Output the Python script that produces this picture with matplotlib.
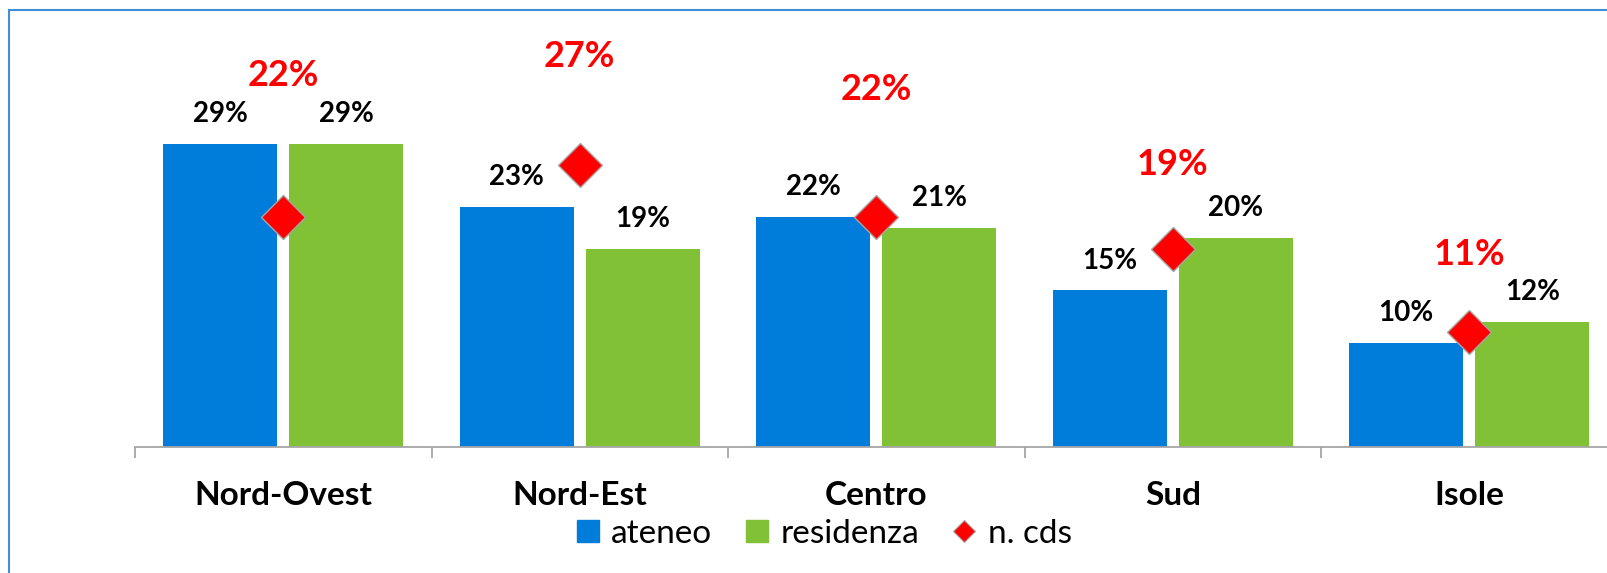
import matplotlib
matplotlib.use("Agg")
import matplotlib.pyplot as plt
from matplotlib.lines import Line2D
import numpy as np

plt.rcParams['font.family'] = ['Lato', 'DejaVu Sans']

# dati
regioni = ["Nord-Ovest", "Nord-Est", "Centro", "Sud", "Isole"]
ateneo = [29, 23, 22, 15, 10]
residenza = [29, 19, 21, 20, 12]
n_cds = [22, 27, 22, 19, 11]

# altezza delle etichette rosse (come nel grafico originale, staccate dai rombi)
cds_label_y = [35.6, 37.4, 34.2, 27.1, 18.4]

BLU = "#007CDA"
VERDE = "#80C136"
ROSSO = "#FF0000"
GRIGIO = "#A6A6A6"

fig = plt.figure(figsize=(16.08, 5.73), dpi=100)
ax = fig.add_axes([135 / 1608, 1 - 447 / 573, 1482.5 / 1608, 427 / 573])

x = np.arange(len(regioni))
w = 0.385
off = 0.2125

ax.bar(x - off, ateneo, w, color=BLU, zorder=2)
ax.bar(x + off, residenza, w, color=VERDE, zorder=2)
ax.plot(x, n_cds, linestyle="none", marker="D", markersize=22,
        markerfacecolor=ROSSO, markeredgecolor=GRIGIO, markeredgewidth=1, zorder=3)

# etichette barre
for i in range(len(regioni)):
    ax.annotate(f"{ateneo[i]}%", (x[i] - off, ateneo[i]), xytext=(0, 21.5),
                textcoords="offset points", ha="center", va="center",
                fontsize=20, fontweight="bold", color="black")
    ax.annotate(f"{residenza[i]}%", (x[i] + off, residenza[i]), xytext=(0, 21.5),
                textcoords="offset points", ha="center", va="center",
                fontsize=20, fontweight="bold", color="black")
    ax.text(x[i], cds_label_y[i], f"{n_cds[i]}%", ha="center", va="center",
            fontsize=26, fontweight="bold", color=ROSSO)

ax.set_xlim(-0.5, 4.5)
ax.set_ylim(0, 40.9)

ax.set_xticks(x)
ax.set_xticklabels(regioni, fontsize=24, fontweight="bold")
ax.tick_params(axis="x", which="major", length=0, pad=24.5)
ax.set_xticks(np.arange(-0.5, 5, 1), minor=True)
ax.tick_params(axis="x", which="minor", length=8, width=1.3, color=GRIGIO)
ax.set_yticks([])
for s in ["top", "right", "left"]:
    ax.spines[s].set_visible(False)
ax.spines["bottom"].set_color(GRIGIO)
ax.spines["bottom"].set_linewidth(1.3)

# legenda
handles = [
    Line2D([], [], linestyle="none", marker="s", markersize=15.5, color=BLU),
    Line2D([], [], linestyle="none", marker="s", markersize=15.5, color=VERDE),
    Line2D([], [], linestyle="none", marker="D", markersize=11,
           markerfacecolor=ROSSO, markeredgecolor=GRIGIO, markeredgewidth=0.8),
]
fig.legend(handles, ["ateneo", "residenza", "n. cds"], loc="center",
           bbox_to_anchor=(824 / 1608, 1 - 534 / 573), ncol=3, frameon=False,
           fontsize=24, handlelength=0.7, handletextpad=0.35, columnspacing=1.0,
           borderpad=0, borderaxespad=0)

# cornice
fig.add_artist(Line2D([9.5 / 1608, 9.5 / 1608], [0, 1 - 10 / 573],
                      transform=fig.transFigure, color="#3F8FD6", linewidth=1.5))
fig.add_artist(Line2D([9.5 / 1608, 1], [1 - 10 / 573, 1 - 10 / 573],
                      transform=fig.transFigure, color="#3F8FD6", linewidth=1.5))

fig.savefig("out.png", dpi=100)
